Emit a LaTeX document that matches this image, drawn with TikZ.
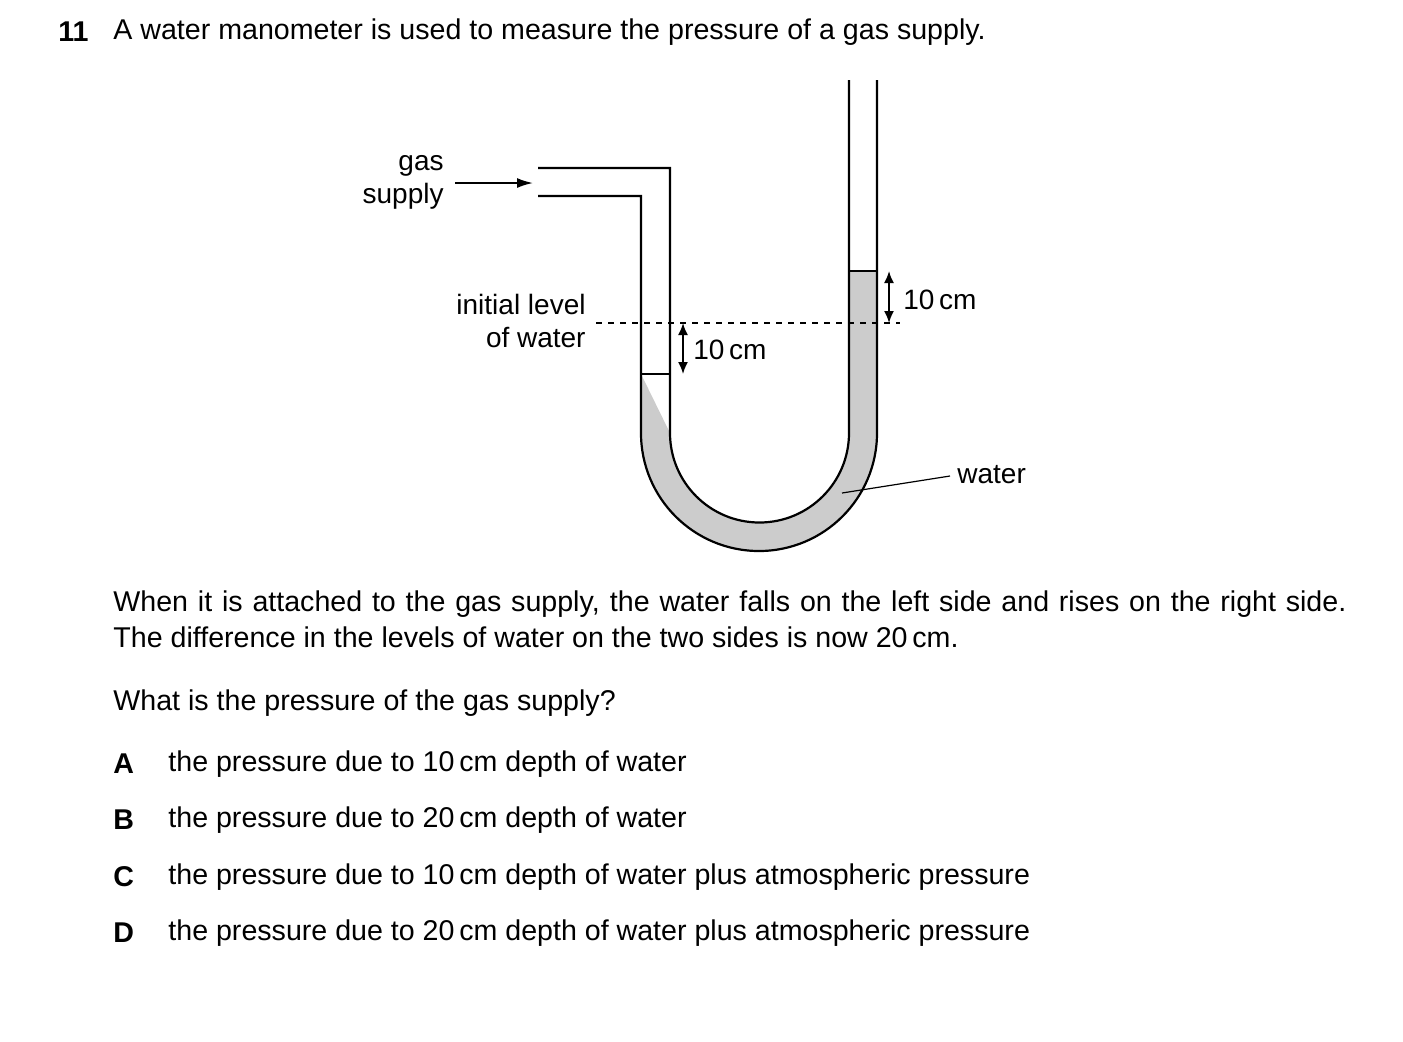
\documentclass[tikz,border=0pt]{standalone}
\usepackage{fontspec}
\setmainfont{Liberation Sans}
\usepackage{tikz}
\usetikzlibrary{arrows.meta}

\begin{document}
\begin{tikzpicture}[x=0.5pt,y=-0.5pt,
    txt/.style={anchor=west,inner sep=0pt,font=\fontsize{14.3}{16}\selectfont},
    lbl/.style={inner sep=0pt,font=\fontsize{14}{16.5}\selectfont,align=right},
    tube/.style={line width=1.1pt},
    dim/.style={line width=0.9pt,{Latex[length=6pt,width=5pt]}-{Latex[length=6pt,width=5pt]}}]
    \useasboundingbox (0,0) rectangle (1403,1041);

    %Water fill
    \fill [gray!40] (641,374) -- (641,433) arc (180:0:118) -- (877,271) -- (849,271) -- (849,433) arc (0:180:89.5) -- cycle;
    %Water levels
    \draw [tube] (641,374) -- (670,374);
    \draw [tube] (849,271) -- (877,271);
    %Tube walls
    \draw [tube] (538,168) -- (670,168) -- (670,433) arc (180:0:89.5) -- (849,80);
    \draw [tube] (538,196) -- (641,196) -- (641,433) arc (180:0:118) -- (877,80);
    %Initial level
    \draw [dashed,line width=0.6pt] (596,323) -- (900,323);

    %Gas arrow
    \node [lbl,anchor=east] (gas) at (444,182) {gas\\supply};
    \coordinate (gasstart) at (455,183);
    \coordinate (gasend) at (533,183);
    \draw [line width=0.9pt,-{Latex[length=8pt,width=5pt]}] (gasstart) -- (gasend);

    % Text Node
    \node [lbl,anchor=east] (init) at (586,321) {initial level\\of water};
    % Dimension arrows
    \coordinate (la) at (683,323); \coordinate (lb) at (683,374);
    \draw [dim] (la) -- (lb);
    \node [lbl,anchor=west] (dleft) at (693,350) {10\,cm};
    \coordinate (ra) at (889,271); \coordinate (rb) at (889,323);
    \draw [dim] (ra) -- (rb);
    \node [lbl,anchor=west] (dright) at (903,300) {10\,cm};
    % Water label
    \node [lbl,anchor=west] (water) at (957,475) {water};
    \coordinate (wstart) at (950,476);
    \coordinate (wpt) at (842,493);
    \draw [line width=0.6pt] (wstart) -- (wpt);

    % Question text
    \node [txt,font=\fontsize{14.3}{16}\selectfont\bfseries] (num) at (58,32) {11};
    \node [txt] (q) at (113,32) {A water manometer is used to measure the pressure of a gas supply.};
    \node [txt] (p1) at (113,604) {\hbox to 616.5pt{When it is attached to the gas supply, the water falls on the left side and rises on the right side.}};
    \node [txt] (p2) at (113,637) {The difference in the levels of water on the two sides is now 20\,cm.};
    \node [txt] (p3) at (113,703) {What is the pressure of the gas supply?};
    \foreach \l/\y/\t [count=\i] in {A/764/the pressure due to 10\,cm depth of water,
        B/820/the pressure due to 20\,cm depth of water,
        C/877/the pressure due to 10\,cm depth of water plus atmospheric pressure,
        D/933/the pressure due to 20\,cm depth of water plus atmospheric pressure}{
      \node [txt,font=\fontsize{14.3}{16}\selectfont\bfseries] (opt\i) at (113,\y) {\l};
      \node [txt] (ans\i) at (168,\y) {\t};
    }
\end{tikzpicture}
\end{document}
